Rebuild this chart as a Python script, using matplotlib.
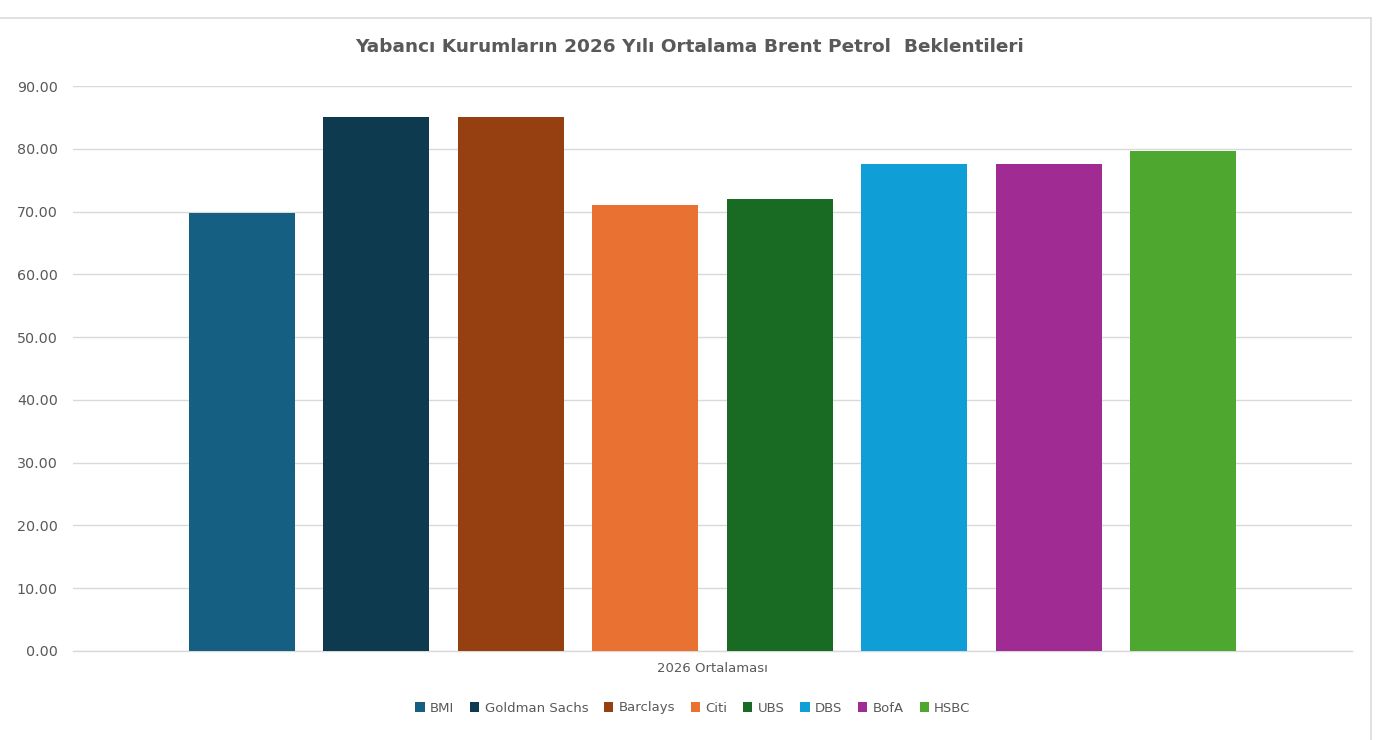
import matplotlib
matplotlib.use("Agg")
import matplotlib.pyplot as plt
from matplotlib.patches import Patch
from matplotlib.lines import Line2D
import numpy as np

# ---- data ----
title = "Yabancı Kurumların 2026 Yılı Ortalama Brent Petrol  Beklentileri"
category = "2026 Ortalaması"
institutions = ["BMI", "Goldman Sachs", "Barclays", "Citi", "UBS", "DBS", "BofA", "HSBC"]
values = [69.8, 85.0, 85.0, 71.0, 72.0, 77.5, 77.5, 79.7]
colors = ["#156082", "#0E3A4F", "#963F11", "#E97132", "#196B24", "#0F9ED5", "#A02B93", "#4EA72E"]
y_ticks = [0, 10, 20, 30, 40, 50, 60, 70, 80, 90]

W, H = 1392, 740
fig = plt.figure(figsize=(W / 100, H / 100), dpi=100)
fig.patch.set_facecolor("white")

ax = fig.add_axes([73 / W, 1 - 651 / H, (1352 - 73) / W, (651 - 86) / H])

n = len(institutions)
step = 1.0
bar_w = 0.79
offsets = (np.arange(n) - (n - 1) / 2) * step
for off, v, c, name in zip(offsets, values, colors, institutions):
    ax.bar(off, v, width=bar_w, color=c, label=name, zorder=3)

ax.set_xlim(-(n - 1) / 2 - 1.255, (n - 1) / 2 + 1.255)
ax.set_ylim(0, 90)
ax.set_yticks(y_ticks)
ax.set_yticklabels([f"{t:.2f}" for t in y_ticks])
ax.yaxis.grid(True, color="#d9d9d9", linewidth=1.0, zorder=0)
ax.set_axisbelow(True)
for s in ["top", "right", "left"]:
    ax.spines[s].set_visible(False)
ax.spines["bottom"].set_color("#d9d9d9")
ax.spines["bottom"].set_linewidth(1.0)
ax.tick_params(axis="y", length=0, pad=11, labelsize=10.3, labelcolor="#595959")
ax.set_xticks([0])
ax.set_xticklabels([category])
ax.tick_params(axis="x", length=0, pad=8, labelsize=9.5, labelcolor="#595959")

fig.text(690 / W, 1 - 47 / H, title, ha="center", va="center",
         fontsize=13.3, fontweight="bold", color="#595959")

handles = [Patch(facecolor=c, edgecolor="none", label=l) for c, l in zip(colors, institutions)]
fig.legend(handles=handles, loc="center", bbox_to_anchor=(693 / W, 1 - 708 / H),
           ncol=n, frameon=False, fontsize=9.5, labelcolor="#595959",
           handlelength=0.7, handleheight=0.7, handletextpad=0.4, columnspacing=1.2)

# screenshot frame lines
fig.add_artist(Line2D([0, 1371 / W], [1 - 18 / H, 1 - 18 / H], color="#dcdcdc", linewidth=1.2))
fig.add_artist(Line2D([1371 / W, 1371 / W], [0, 1 - 18 / H], color="#dcdcdc", linewidth=1.2))

fig.savefig("out.png", dpi=100, facecolor="white")
